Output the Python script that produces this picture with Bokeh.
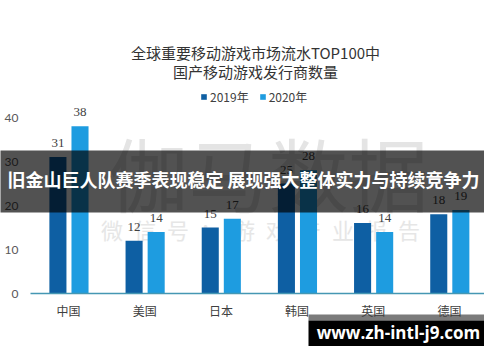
from bokeh.plotting import figure
from bokeh.models import (Range1d, Legend, LegendItem, FixedTicker, ColumnDataSource)
from bokeh.core.properties import value
from bokeh.embed import file_html
from bokeh.resources import INLINE

# ---------------- data ----------------
categories = ["中国", "美国", "日本", "韩国", "英国", "德国"]
y2019 = [31, 12, 15, 25, 16, 18]
y2020 = [38, 14, 17, 28, 14, 19]
series_names = ["2019年", "2020年"]
y_ticks = [0, 10, 20, 30, 40]
title_lines = ["全球重要移动游戏市场流水TOP100中", "国产移动游戏发行商数量"]
banner_text = "旧金山巨人队赛季表现稳定 展现强大整体实力与持续竞争力"
url_text = "www.zh-intl-j9.com"
watermark_main = "伽马数据"
watermark_sub = "微\u2002信\u2002号\u2002：\u2002游\u2002戏\u2002产\u2002业\u2002报\u2002告"

# ---------------- style / layout ----------------
C19 = "#0e5fa3"
C20 = "#1e9ce0"
CJK = "Noto Sans CJK SC"
W, H = 484, 346
LEFT, RIGHT, BASE = 30, 487, 293          # plot area in canvas px
PX_CAT = (RIGHT - LEFT) / len(categories)  # px per category
PX_Y = 4.4                                # px per unit
X0 = -LEFT / PX_CAT
X1 = (W - LEFT) / PX_CAT
Y0 = -(H - BASE) / PX_Y
Y1 = BASE / PX_Y
OFF19, OFF20, BAR_W = -0.14, 0.15, 0.224


def dx(px):
    return X0 + px / PX_CAT


def dy(py):
    return (BASE - py) / PX_Y


p = figure(width=W, height=H, x_range=Range1d(X0, X1), y_range=Range1d(Y0, Y1),
           output_backend="svg", toolbar_location=None,
           min_border_left=0, min_border_right=0,
           min_border_top=0, min_border_bottom=0)
p.outline_line_color = None
p.xgrid.visible = False
p.ygrid.visible = False
p.background_fill_color = "white"
p.border_fill_color = "white"

centers = [i + 0.5 for i in range(len(categories))]
src = ColumnDataSource(dict(
    x19=[c + OFF19 for c in centers], x20=[c + OFF20 for c in centers],
    v19=y2019, v20=y2020,
    l19=[str(v) for v in y2019], l20=[str(v) for v in y2020]))

# watermark (beneath the bars)
p.text(x=[dx(268)], y=[dy(170)], text=[watermark_main],
       text_font=value(CJK), text_font_size="80px", text_color="#e4e4e4",
       text_align="center", text_baseline="middle")
p.text(x=[dx(260)], y=[dy(228)], text=[watermark_sub],
       text_font=value(CJK), text_font_size="22px", text_color="#e6e6e6",
       text_align="center", text_baseline="middle")

r19 = p.vbar(x="x19", top="v19", width=BAR_W, source=src,
             fill_color=C19, line_color=None)
r20 = p.vbar(x="x20", top="v20", width=BAR_W, source=src,
             fill_color=C20, line_color=None)

for xc, lc in (("x19", "l19"), ("x20", "l20")):
    p.text(x=xc, y="v" + lc[1:], text=lc, source=src, y_offset=-14,
           text_align="center", text_baseline="middle",
           text_font=value("Liberation Serif"), text_font_size="13px",
           text_color="#404040")

# axes drawn at fixed data positions
p.xaxis.fixed_location = 0
p.xaxis.bounds = (0, len(categories))
p.xaxis.ticker = FixedTicker(ticks=centers)
p.xaxis.major_label_overrides = {c: n for c, n in zip(centers, categories)}
p.xaxis.axis_line_color = "#4597b3"
p.xaxis.axis_line_width = 1.5
p.xaxis.major_tick_line_color = None
p.xaxis.major_tick_out = 0
p.xaxis.major_tick_in = 0
p.xaxis.minor_tick_line_color = None
p.xaxis.major_label_text_font = CJK
p.xaxis.major_label_text_font_size = "12px"
p.xaxis.major_label_text_color = "#404040"
p.xaxis.major_label_standoff = 8

p.yaxis.fixed_location = 0
p.yaxis.bounds = (0, 40)
p.yaxis.ticker = FixedTicker(ticks=y_ticks)
p.yaxis.axis_line_color = None
p.yaxis.major_tick_line_color = None
p.yaxis.major_tick_out = 0
p.yaxis.major_tick_in = 0
p.yaxis.minor_tick_line_color = None
p.yaxis.major_label_text_font = "Lato"
p.yaxis.major_label_text_font_size = "12px"
p.yaxis.major_label_text_color = "#595959"
p.yaxis.major_label_standoff = 12
p.yaxis.level = "underlay"   # so the overlay banner covers the tick labels

# title
for txt, yc in zip(title_lines, (52, 71)):
    p.text(x=[dx(255)], y=[dy(yc)], text=[txt], text_font=value(CJK),
           text_font_size="15px", text_color="#333333",
           text_align="center", text_baseline="middle")

# banner overlay
p.quad(left=[dx(-20)], right=[dx(W + 20)], top=[dy(150)], bottom=[dy(212)],
       fill_color="black", fill_alpha=0.68, line_color=None)
p.text(x=[dx(243)], y=[dy(178)], text=[banner_text], text_font=value(CJK),
       text_font_size="18px", text_font_style="bold", text_color="white",
       text_align="center", text_baseline="middle")

# url box
p.quad(left=[dx(308)], right=[dx(W + 10)], top=[dy(314)], bottom=[dy(320)],
       fill_color="#7b7b7b", line_color=None)
p.quad(left=[dx(308)], right=[dx(W + 10)], top=[dy(320)], bottom=[dy(H + 10)],
       fill_color="black", line_color=None)
p.text(x=[dx(398)], y=[dy(332)], text=[url_text], text_font=value("Open Sans"),
       text_font_size="17px", text_font_style="bold", text_color="white",
       text_align="center", text_baseline="middle")

# legend
legend = Legend(items=[LegendItem(label=series_names[0], renderers=[r19]),
                       LegendItem(label=series_names[1], renderers=[r20])],
                orientation="horizontal", location=(200, H - 105),
                glyph_width=7, glyph_height=7, label_height=14,
                label_standoff=3, spacing=10, padding=0, margin=0,
                label_text_font=CJK, label_text_font_size="12px",
                label_text_color="#404040",
                border_line_color=None, background_fill_alpha=0)
p.add_layout(legend)

open("out.html", "w").write(file_html(p, INLINE))
